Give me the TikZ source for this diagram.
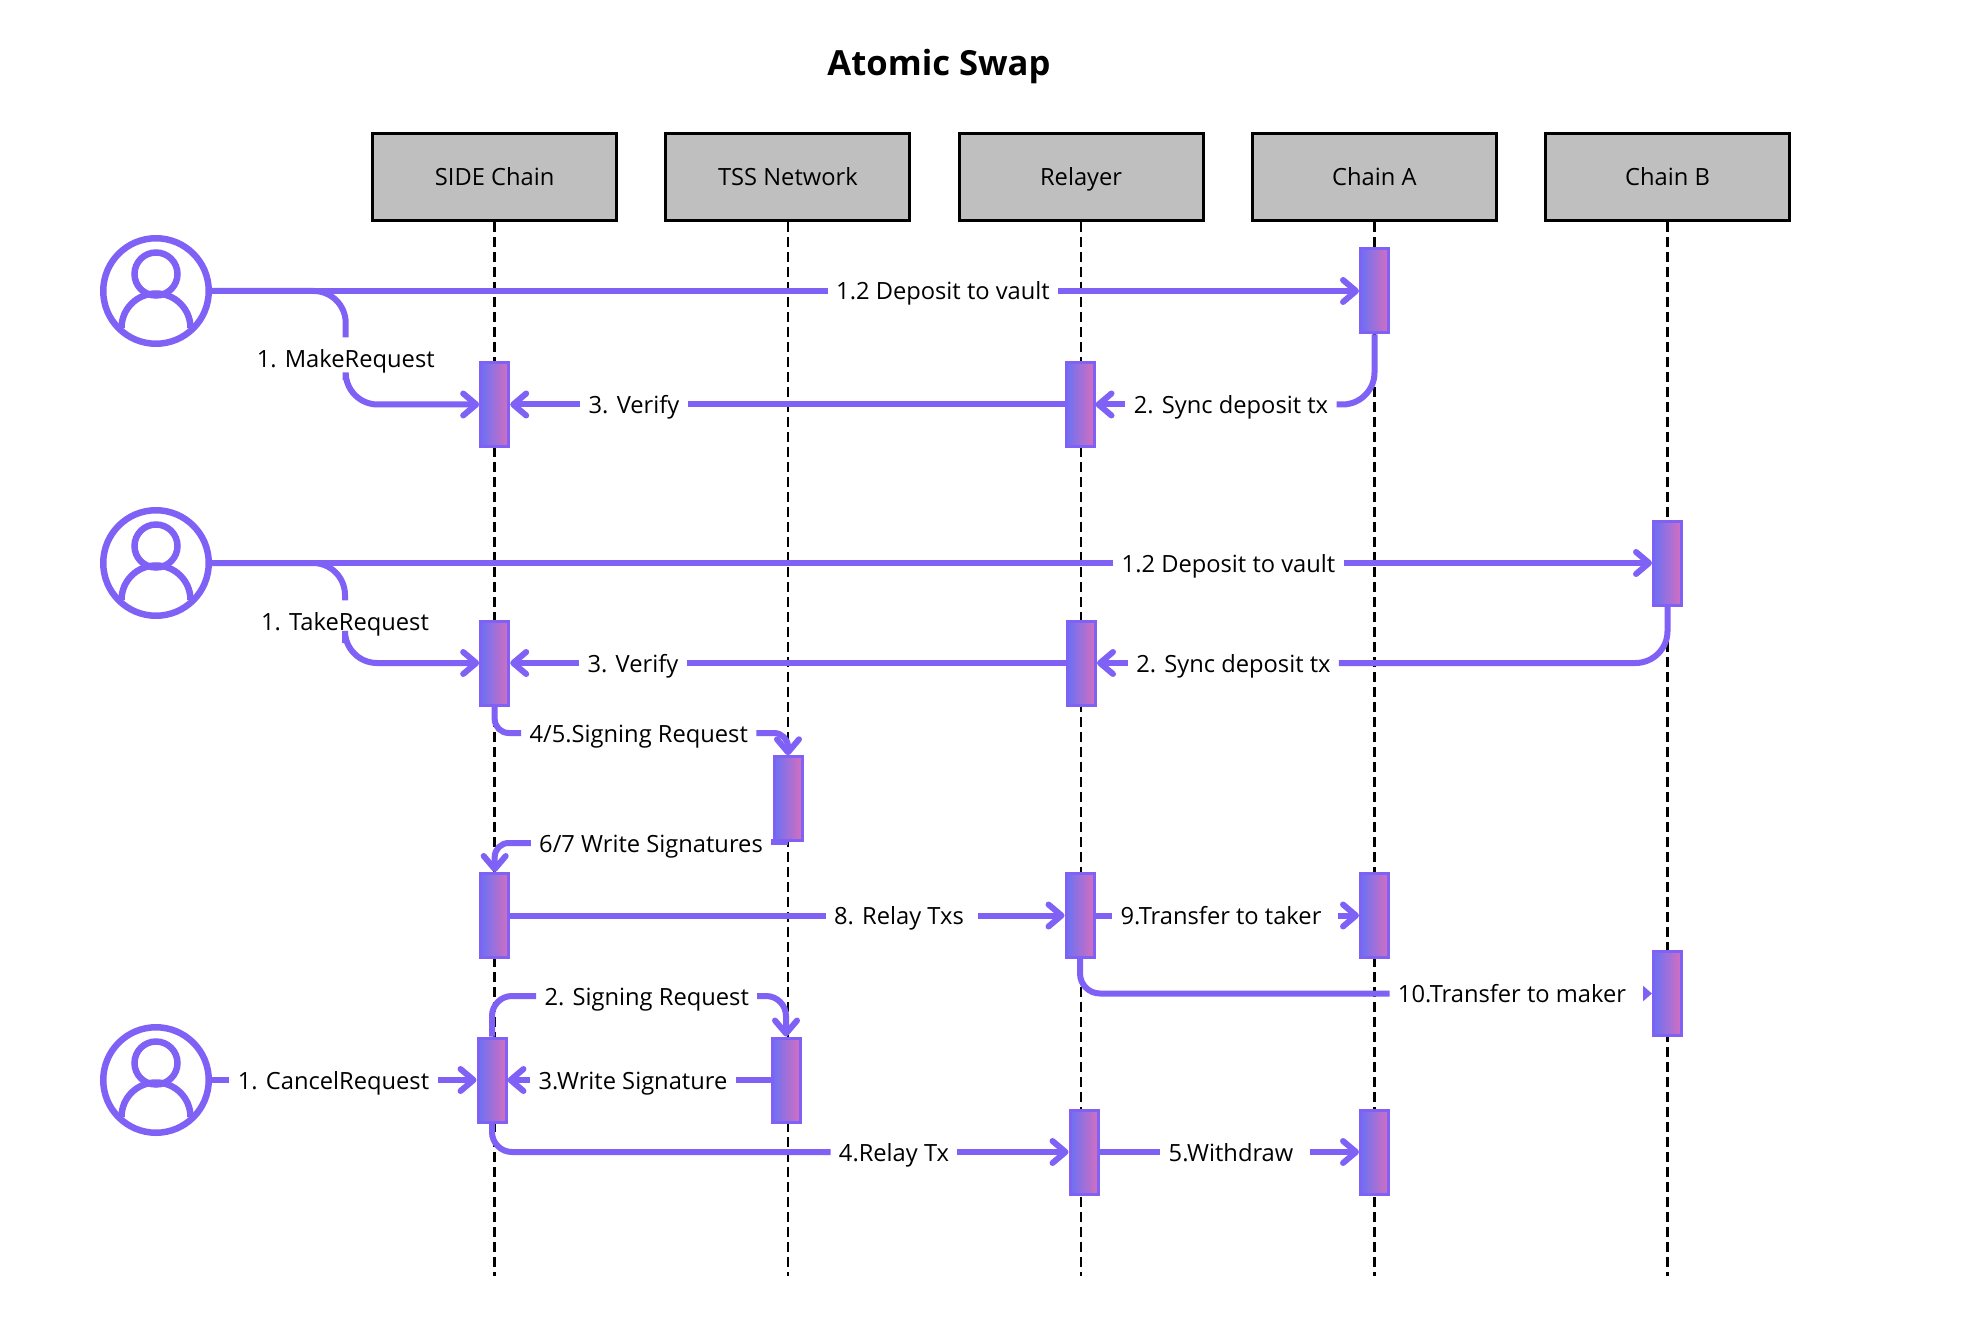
\documentclass[tikz,border=0pt]{standalone}
\usepackage{fontspec}
\setmainfont{Open Sans}
\usetikzlibrary{positioning, arrows.meta}
\definecolor{flowcol}{HTML}{8061F6}
\definecolor{headcol}{HTML}{BFBFBF}
\definecolor{gradleft}{HTML}{6A70F5}
\definecolor{gradright}{HTML}{D46FBE}
\tikzset{
	usericon/.pic={
		\draw[flowcol, line width=3.25pt] (0,-17) circle[radius=10.75pt];
		\draw[flowcol, line width=3.25pt] (-34.5,37) arc[start angle=180, end angle=0, radius=17.25pt];
	}
}

\begin{document}
\begin{tikzpicture}[
			x=0.5pt, y=-0.5pt,
			node distance=23.1pt,
			font=\fontsize{11.85pt}{14pt}\selectfont,
			head/.style={
				draw=black,
				fill=headcol,
				line width=1.5pt,
				minimum width=122pt,
				minimum height=43.5pt,
				text height=10.5pt,
				text depth=1.5pt,
				inner sep=0pt
			},
			act/.style={
				draw=flowcol,
				left color=gradleft,
				right color=gradright,
				line width=1.5pt,
				minimum width=14pt,
				minimum height=42pt,
				inner sep=0pt
			},
			user/.style={
				circle,
				draw=flowcol,
				line width=3.25pt,
				minimum size=52.75pt,
				inner sep=0pt
			},
			msg/.style={
				text height=10.5pt,
				text depth=1.5pt,
				inner xsep=4pt,
				inner ysep=4.5pt
			},
			life/.style={
				line width=1.25pt,
				dash pattern=on 5pt off 2.5pt
			},
			flow/.style={
				draw=flowcol,
				line width=3pt
			},
			flowto/.style={
				flow,
				-{Straight Barb[length=6.5pt, width=11pt, round]}
			}
		]
			\useasboundingbox (0,0) rectangle (1974,1336);

			\node[font=\fontsize{17.3pt}{20pt}\selectfont\bfseries] (title) at (939,67) {Atomic Swap};

			\node[head] (side) at (494.7,177) {SIDE Chain};
			\node[head] (tss) [right=of side] {TSS Network};
			\node[head] (rel) [right=of tss] {Relayer};
			\node[head] (cha) [right=of rel] {Chain A};
			\node[head] (chb) [right=of cha] {Chain B};

			\coordinate (lifeend) at (0,1276);
			\foreach \h in {side,tss,rel,cha,chb}
				\draw[life] (\h.south) -- (\h.south |- lifeend);

			% actors
			\node[user] (user1) at (156,291) {};
			\node[user] (user2) at (156,563) {};
			\node[user] (user3) at (156,1080) {};
			\pic at (user1) {usericon};
			\pic at (user2) {usericon};
			\pic at (user3) {usericon};

			% activations
			\node[act] (cha1) at (1374.5,291) {};
			\node[act] (side1) at (494.7,404.5) {};
			\node[act] (rel1) at (1080,404.5) {};
			\node[act] (chb1) at (1667.5,563) {};
			\node[act] (side2) at (494.7,663) {};
			\node[act] (rel2) at (1081.5,663) {};
			\node[act] (tss1) at (788,798.8) {};
			\node[act] (side3) at (494.7,915.5) {};
			\node[act] (rel3) at (1080,915.5) {};
			\node[act] (cha2) at (1374.5,915.5) {};
			\node[act] (chb2) at (1667.5,993.5) {};
			\node[act] (side4) at (492,1080) {};
			\node[act] (tss2) at (786,1080) {};
			\node[act] (rel4) at (1084,1152) {};
			\node[act] (cha3) at (1374.5,1152) {};

			% labels
			\node[msg] (dep1) at (943,291) {1.2 Deposit to vault};
			\node[msg] (mkreq) at (345.7,358.7) {1. MakeRequest};
			\node[msg] (ver1) at (634,404.5) {3. Verify};
			\node[msg] (sync1) at (1231,404.5) {2. Sync deposit tx};
			\node[msg] (dep2) at (1228.5,563) {1.2 Deposit to vault};
			\node[msg] (tkreq) at (345,621.7) {1. TakeRequest};
			\node[msg] (ver2) at (633,663) {3. Verify};
			\node[msg] (sync2) at (1233.4,663) {2. Sync deposit tx};
			\node[msg] (sign45) at (638.7,733) {4/5.Signing Request};
			\node[msg] (wsig67) at (651,843) {6/7 Write Signatures};
			\node[msg] (rly8) at (899,915.5) {8. Relay Txs};
			\node[msg] (trt9) at (1221,915.5) {9.Transfer to taker};
			\node[msg] (trm10) at (1512,993.5) {10.Transfer to maker};
			\node[msg] (sign2) at (646.7,996) {2. Signing Request};
			\node[msg] (cncl) at (333.5,1080) {1. CancelRequest};
			\node[msg] (wsig3) at (633,1080) {3.Write Signature};
			\node[msg] (rly4) at (894,1152) {4.Relay Tx};
			\node[msg] (wdr5) at (1231,1152) {5.Withdraw};

			\coordinate (tiptail) at (1643.5,993.5);

			% maker
			\draw[flow] (user1.east) -- (dep1);
			\draw[flowto] (dep1) -- (cha1);
			\draw[flow, rounded corners=16pt] (user1.east) -| (mkreq.north);
			\draw[flowto, rounded corners=16pt] (mkreq.south) |- (side1.west);
			\draw[flow, rounded corners=16pt] (cha1.south) |- (sync1.east);
			\draw[flowto] (sync1) -- (rel1);
			\draw[flow] (rel1) -- (ver1);
			\draw[flowto] (ver1) -- (side1);

			% taker
			\draw[flow] (user2.east) -- (dep2);
			\draw[flowto] (dep2) -- (chb1);
			\draw[flow, rounded corners=16pt] (user2.east) -| (tkreq.north);
			\draw[flowto, rounded corners=16pt] (tkreq.south) |- (side2.west);
			\draw[flow, rounded corners=16pt] (chb1.south) |- (sync2.east);
			\draw[flowto] (sync2) -- (rel2);
			\draw[flow] (rel2) -- (ver2);
			\draw[flowto] (ver2) -- (side2);

			% signing and relay
			\draw[flow, rounded corners=7pt] (side2.south) |- (sign45.west);
			\draw[flowto, rounded corners=7pt] (sign45.east) -| (tss1.north);
			\draw[flow] (tss1.south) -- (wsig67.east |- tss1.south);
			\draw[flowto, rounded corners=7pt] (wsig67.west) -| (side3.north);
			\draw[flow] (side3) -- (rly8);
			\draw[flowto, shorten <=3pt] (rly8) -- (rel3);
			\draw[flow] (rel3) -- (trt9);
			\draw[flowto, shorten <=4pt] (trt9) -- (cha2);
			\draw[flow, rounded corners=10pt] (rel3.south) |- (trm10.west);
			\draw[flow, -{Triangle[length=4.5pt, width=7.5pt]}] (tiptail) -- (chb2.west);

			% cancel
			\draw[flow, rounded corners=10pt] (side4.north) |- (sign2.west);
			\draw[flowto, rounded corners=10pt] (sign2.east) -| (tss2.north);
			\draw[flow] (user3.east) -- (cncl);
			\draw[flowto] (cncl) -- (side4);
			\draw[flow] (tss2) -- (wsig3);
			\draw[flowto] (wsig3) -- (side4);
			\draw[flow, rounded corners=10pt] (side4.south) |- (rly4.west);
			\draw[flowto] (rly4) -- (rel4);
			\draw[flow] (rel4) -- (wdr5);
			\draw[flowto, shorten <=4pt] (wdr5) -- (cha3);

		\end{tikzpicture}
\end{document}
